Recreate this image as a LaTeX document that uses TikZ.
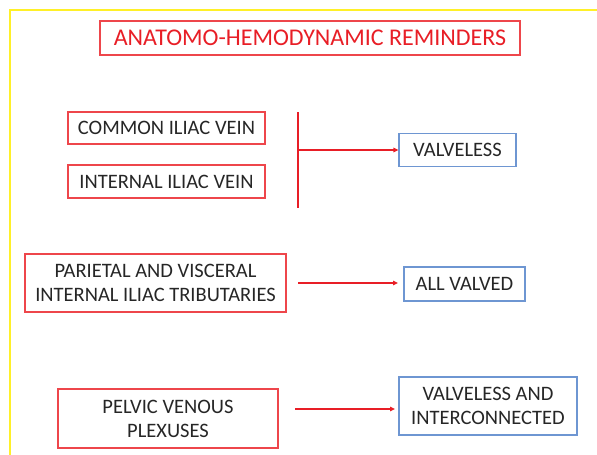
\documentclass[tikz,border=0pt]{standalone}
\usepackage{fontspec}
\setmainfont{Carlito}
\usetikzlibrary{arrows.meta}
\definecolor{frameyellow}{RGB}{255,240,40}
\definecolor{boxred}{RGB}{238,70,75}
\definecolor{arrred}{RGB}{232,30,38}
\definecolor{boxblue}{RGB}{110,150,210}
\definecolor{txt}{RGB}{38,38,38}
\tikzset{
  redbox/.style={draw=boxred, line width=1.1pt, inner sep=0pt, align=center, text=txt, font=\fontsize{20.5}{24}\selectfont},
  bluebox/.style={draw=boxblue, line width=1.1pt, inner sep=0pt, align=center, text=txt, font=\fontsize{20.5}{24}\selectfont},
  conn/.style={draw=arrred, line width=1.5pt},
  arr/.style={conn, -{Triangle[length=5pt,width=4.5pt]}},
}
\begin{document}
\begin{tikzpicture}[x=1pt,y=-1pt]
\useasboundingbox (0,0) rectangle (597,455);
% yellow frame
\coordinate (ytr) at (597,10);
\coordinate (ytl) at (10,10);
\coordinate (ybl) at (10,455);
\draw[frameyellow, line width=2pt] (ytr) -- (ytl) -- (ybl);
% title
\node[draw=boxred, line width=1.1pt, minimum width=420pt, minimum height=34pt, inner sep=0pt, text=arrred, font=\fontsize{24}{28}\selectfont] (title) at (310,38) {ANATOMO-HEMODYNAMIC REMINDERS};
% group 1
\node[redbox, minimum width=197pt, minimum height=32pt] (civ) at (166.5,128) {COMMON ILIAC VEIN};
\node[redbox, minimum width=197pt, minimum height=33pt] (iiv) at (166.5,181.5) {INTERNAL ILIAC VEIN};
\node[bluebox, minimum width=117pt, minimum height=33pt] (vl) at (457.5,150) {VALVELESS};
\coordinate (bt) at (298,112);
\coordinate (bb) at (298,208);
\coordinate (bm) at (298,150);
\draw[conn] (bt) -- (bb);
\draw[arr] (bm) -- (vl.west);
% group 2
\node[redbox, minimum width=261pt, minimum height=58pt] (pv) at (155.5,283) {PARIETAL AND VISCERAL\\INTERNAL ILIAC TRIBUTARIES};
\node[bluebox, minimum width=121pt, minimum height=34pt] (av) at (464.5,284) {ALL VALVED};
\coordinate (a2s) at (298,283);
\coordinate (a2e) at (398,283);
\draw[arr] (a2s) -- (a2e);
% group 3
\node[redbox, minimum width=220pt, minimum height=59pt] (pvp) at (168,418.5) {PELVIC VENOUS\\PLEXUSES};
\node[bluebox, minimum width=178pt, minimum height=58pt] (vi) at (488,406) {VALVELESS AND\\INTERCONNECTED};
\coordinate (a3s) at (295,409);
\coordinate (a3e) at (395,409);
\draw[arr] (a3s) -- (a3e);
\end{tikzpicture}
\end{document}
